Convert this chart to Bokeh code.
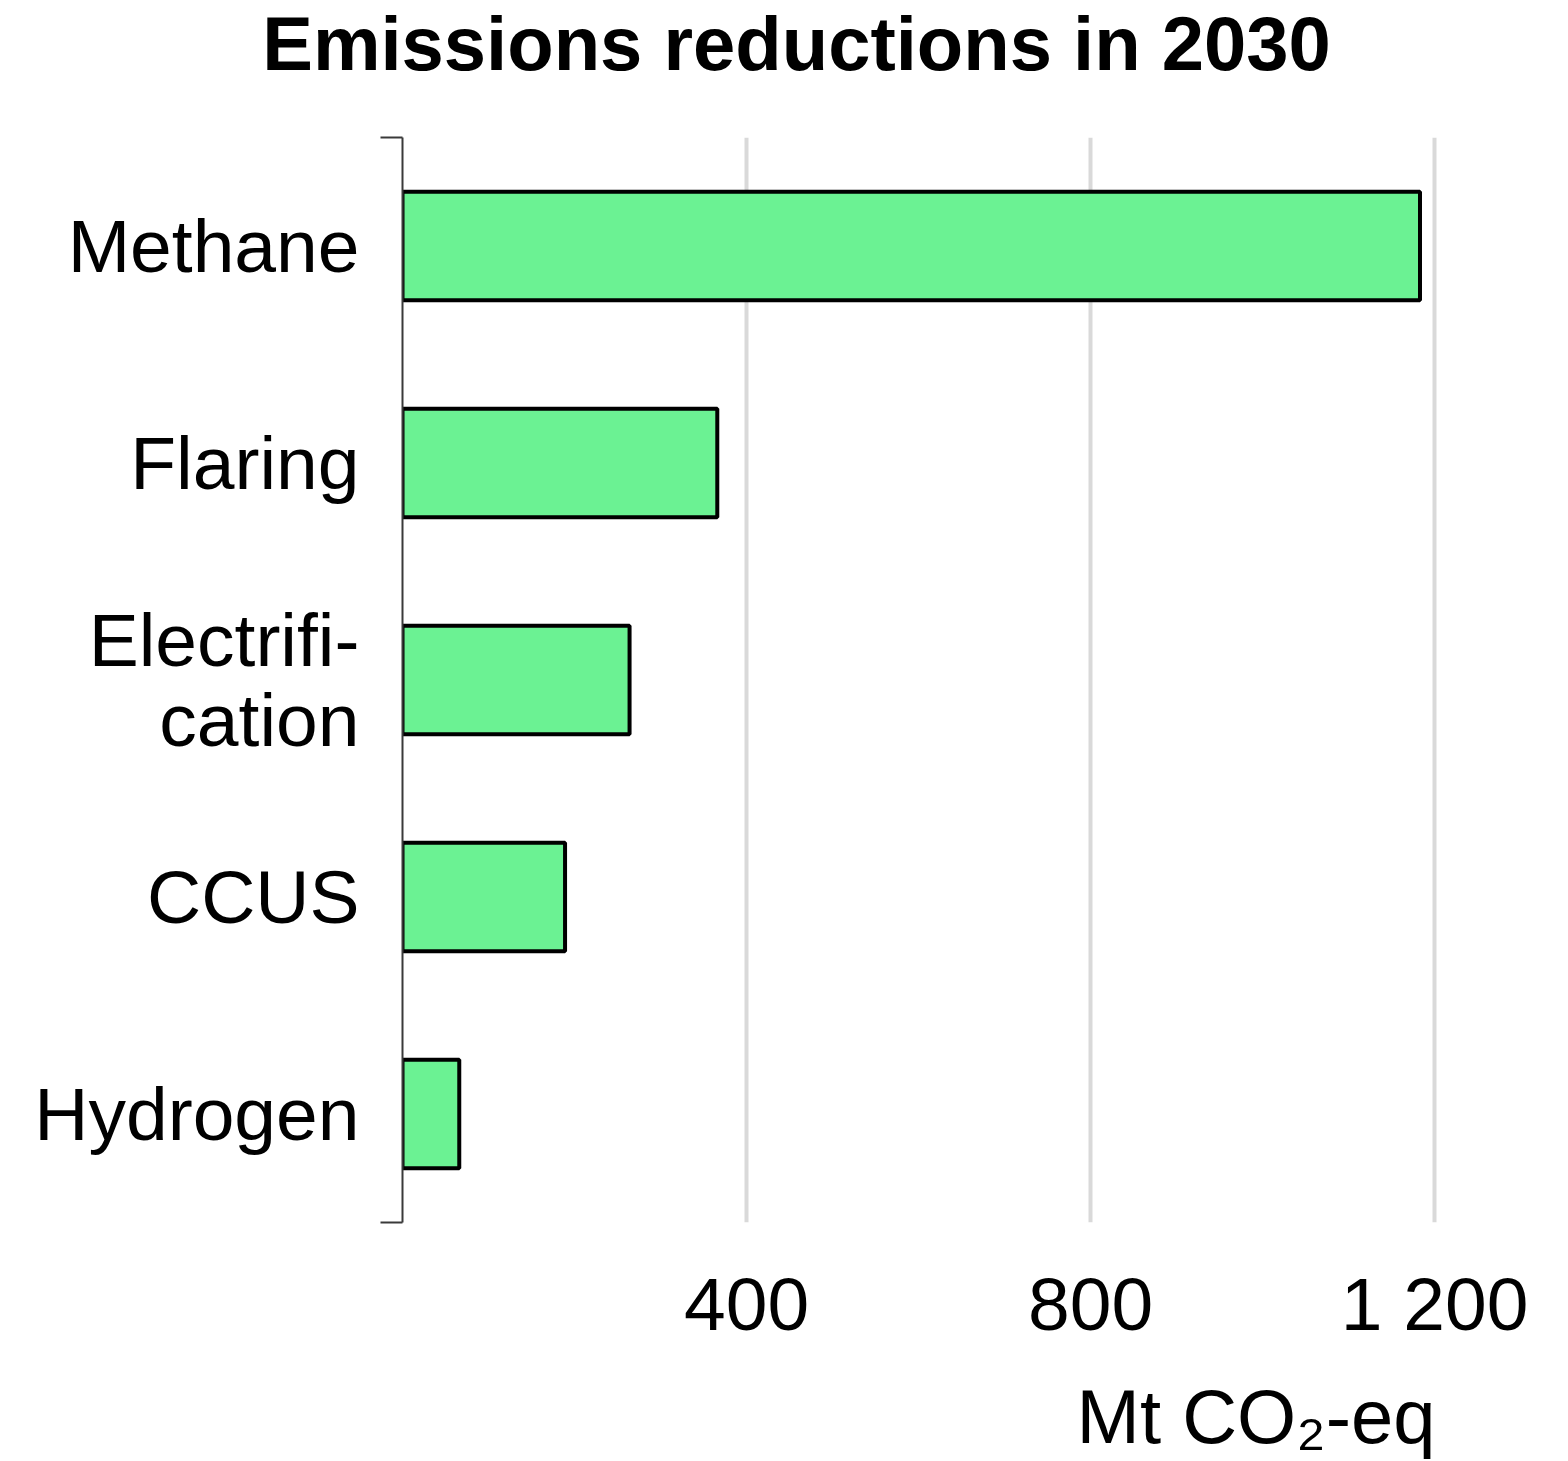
from bokeh.plotting import figure
from bokeh.models import Range1d, FixedTicker, ColumnDataSource, Label
from bokeh.embed import file_html
from bokeh.resources import INLINE

# Emissions reductions by measure in 2030 (Mt CO2-eq), listed top to bottom
categories = ["Methane", "Flaring", "Electrifi-\ncation", "CCUS", "Hydrogen"]
reductions = [1183, 366, 264, 189, 66]

x_ticks = [400, 800, 1200]
x_tick_labels = ["400", "800", "1 200"]

FONT = "Liberation Sans"
BAR_COLOR = "#6bf293"
AXIS_COLOR = "#3a3a3a"

n = len(categories)
rows = [n - 1 - i + 0.5 for i in range(n)]
source = ColumnDataSource(dict(cat=categories, y=rows, value=reductions))

p = figure(
    width=1568, height=1461,
    x_range=Range1d(0, 1215), y_range=Range1d(0, n),
    output_backend="svg", toolbar_location=None,
    min_border_left=402, min_border_right=121,
    min_border_top=137, min_border_bottom=239,
)

p.hbar(y="y", right="value", left=0, height=0.5, source=source,
       fill_color=BAR_COLOR, line_color="black", line_width=4)

# heading, placed in the top panel (screen offsets from the panel's left/bottom)
p.add_layout(Label(text="Emissions reductions in 2030",
                   x=394, y=94, x_units="screen", y_units="screen",
                   text_align="center", text_baseline="alphabetic",
                   text_font=FONT, text_font_style="bold", text_font_size="76px",
                   text_color="black"), "above")

# x axis: labels only, no line or ticks
xa = p.xaxis[0]
xa.ticker = FixedTicker(ticks=x_ticks)
xa.major_label_overrides = dict(zip(x_ticks, x_tick_labels))
xa.axis_line_color = None
xa.major_tick_line_color = None
xa.minor_tick_line_color = None
xa.major_label_standoff = 33
xa.major_label_text_font = FONT
xa.major_label_text_font_size = "75px"
xa.major_label_text_color = "black"

# unit label, right-aligned under the last gridline
p.add_layout(Label(text="Mt CO\u2082-eq",
                   x=1033, y=17, x_units="screen", y_units="screen",
                   text_align="right", text_baseline="alphabetic",
                   text_font=FONT, text_font_size="76px",
                   text_color="black"), "below")

# y axis: category labels at bar centres, short caps at both ends
ya = p.yaxis[0]
ya.ticker = FixedTicker(ticks=rows, minor_ticks=[0, n])
ya.major_label_overrides = {y: c for y, c in zip(rows, categories)}
ya.axis_line_color = AXIS_COLOR
ya.axis_line_width = 2
ya.major_tick_line_color = None
ya.major_tick_out = 0
ya.minor_tick_line_color = AXIS_COLOR
ya.minor_tick_line_width = 2
ya.minor_tick_out = 22
ya.minor_tick_in = 0
ya.major_label_standoff = 21
ya.major_label_text_font = FONT
ya.major_label_text_font_size = "75px"
ya.major_label_text_line_height = 0.95
ya.major_label_text_color = "black"

p.xgrid.ticker = FixedTicker(ticks=x_ticks)
p.xgrid.grid_line_color = "#d9d9d9"
p.xgrid.grid_line_width = 4
p.ygrid.visible = False
p.outline_line_color = None

open("out.html", "w").write(file_html(p, INLINE))
